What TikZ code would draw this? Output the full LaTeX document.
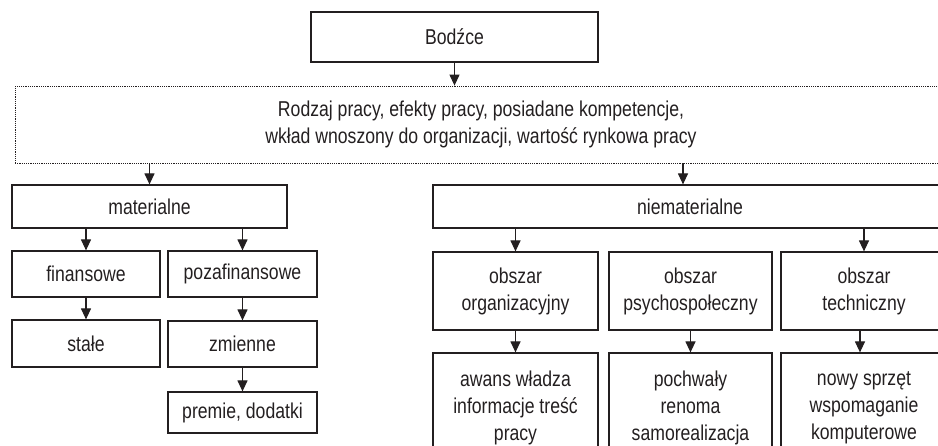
\documentclass[tikz,border=0pt]{standalone}
\usepackage{fontspec}
\setmainfont{Liberation Sans}[FakeStretch=0.82]
\usetikzlibrary{arrows.meta}
\definecolor{ink}{HTML}{231F20}
\tikzset{
  box/.style={draw=ink,line width=1.2pt,text=ink,align=center,inner sep=0pt,
    font=\fontsize{21.5}{27}\selectfont},
  dotbox/.style={box,densely dotted,line width=0.8pt},
  arr/.style={draw=ink,line width=1.2pt,-{Triangle[width=10pt,length=11pt]}}
}
\begin{document}
\begin{tikzpicture}[x=1pt,y=-1pt]
  \useasboundingbox (0,0) rectangle (938,446);
  % top level
  \node[box,minimum width=287pt,minimum height=50pt] (bodzce) at (454.5,37) {Bodźce};
  \node[dotbox,minimum width=932pt,minimum height=77pt] (rodzaj) at (481,124.5)
    {Rodzaj pracy, efekty pracy, posiadane kompetencje,\\wkład wnoszony do organizacji, wartość rynkowa pracy};
  \node[box,minimum width=275pt,minimum height=43pt] (mat) at (149.5,206.5) {materialne};
  \node[box,minimum width=514pt,minimum height=43pt] (niemat) at (690,206.5) {niematerialne};
  % materialne
  \node[box,minimum width=148pt,minimum height=46pt] (fin) at (86,274) {finansowe};
  \node[box,minimum width=149pt,minimum height=46pt] (poza) at (242.5,274) {pozafinansowe};
  \node[box,minimum width=148pt,minimum height=47pt] (stale) at (86,343.5) {stałe};
  \node[box,minimum width=149pt,minimum height=46pt] (zmienne) at (242.5,344) {zmienne};
  \node[box,minimum width=149pt,minimum height=41pt] (premie) at (242.5,412.5) {premie, dodatki};
  % niematerialne
  \node[box,minimum width=165pt,minimum height=78pt] (org) at (515.5,291) {obszar\\organizacyjny};
  \node[box,minimum width=163pt,minimum height=78pt] (psy) at (690.5,291) {obszar\\psychospołeczny};
  \node[box,minimum width=166pt,minimum height=78pt] (tech) at (864,291) {obszar\\techniczny};
  \node[box,minimum width=165pt,minimum height=110pt] (orgd) at (515.5,408) {awans władza\\informacje treść\\pracy};
  \node[box,minimum width=163pt,minimum height=110pt] (psyd) at (690.5,408) {pochwały\\renoma\\samorealizacja};
  \node[box,minimum width=166pt,minimum height=110pt] (techd) at (864,408) {nowy sprzęt\\wspomaganie\\komputerowe};
  % arrows
  \draw[arr] (bodzce.south) -- (bodzce.south |- rodzaj.north);
  \draw[arr] (mat.north |- rodzaj.south) -- (mat.north);
  \draw[arr] ([xshift=-7pt]niemat.north |- rodzaj.south) -- ([xshift=-7pt]niemat.north);
  \draw[arr] (fin.north |- mat.south) -- (fin.north);
  \draw[arr] (poza.north |- mat.south) -- (poza.north);
  \draw[arr] (fin) -- (stale);
  \draw[arr] (poza) -- (zmienne);
  \draw[arr] (zmienne) -- (premie);
  \draw[arr] (org.north |- niemat.south) -- (org.north);
  \draw[arr] (tech.north |- niemat.south) -- (tech.north);
  \draw[arr] (org) -- (orgd);
  \draw[arr] (psy) -- (psyd);
  \draw[arr] ([xshift=-4pt]tech.south) -- ([xshift=-4pt]techd.north);
\end{tikzpicture}
\end{document}
